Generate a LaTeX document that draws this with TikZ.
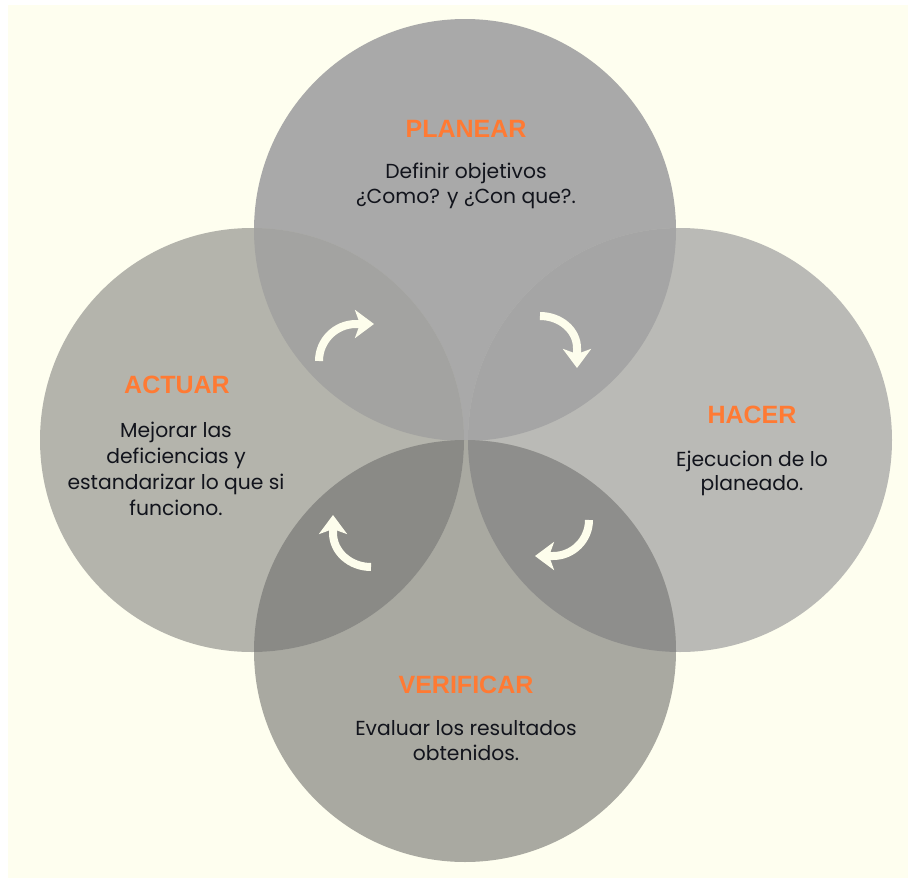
\documentclass[tikz,border=0pt]{standalone}
\usepackage{fontspec}
\setmainfont{Poppins}
\newfontfamily\titlefont{Liberation Sans}
\usetikzlibrary{arrows.meta}

\newlength{\du}
\setlength{\du}{1\unitlength}

\definecolor{titlecolor}{rgb}{1.000000, 0.478000, 0.200000}
\definecolor{bodycolor}{rgb}{0.070000, 0.080000, 0.110000}
\definecolor{arrowcolor}{rgb}{0.992000, 0.992000, 0.925000}

\tikzset{
  titletext/.style={anchor=base, inner sep=0pt, text=titlecolor,
    font=\titlefont\bfseries\fontsize{25pt}{30pt}\selectfont},
  bodytext/.style={anchor=base, inner sep=0pt, text=bodycolor,
    font=\fontsize{20.3pt}{24pt}\selectfont},
  turnarrow/.style={draw=arrowcolor, line width=8pt,
    -{Stealth[length=19pt, width=28pt, inset=5pt]}}
}

\begin{document}
\begin{tikzpicture}
\pgftransformxscale{1.000000}
\pgftransformyscale{-1.000000}
\useasboundingbox (0\du,0\du) rectangle (908\du,878\du);
\definecolor{dialinecolor}{rgb}{1.000000, 1.000000, 1.000000}
\pgfsetfillcolor{dialinecolor}
\fill (0\du,0\du)--(908\du,0\du)--(908\du,878\du)--(0\du,878\du)--cycle;
\definecolor{dialinecolor}{rgb}{0.996000, 0.996000, 0.937000}
\pgfsetfillcolor{dialinecolor}
\fill (8\du,5\du)--(908\du,5\du)--(908\du,878\du)--(8\du,878\du)--cycle;
% circles
\definecolor{dialinecolor}{rgb}{0.663000, 0.663000, 0.663000}
\pgfsetfillcolor{dialinecolor}
\fill (465\du,230\du) circle (211\du);
\definecolor{dialinecolor}{rgb}{0.729000, 0.729000, 0.714000}
\pgfsetfillcolor{dialinecolor}
\fill (680\du,440\du) circle (212\du);
\definecolor{dialinecolor}{rgb}{0.663000, 0.663000, 0.631000}
\pgfsetfillcolor{dialinecolor}
\fill (465\du,651\du) circle (211\du);
\definecolor{dialinecolor}{rgb}{0.706000, 0.706000, 0.675000}
\pgfsetfillcolor{dialinecolor}
\fill (252\du,440\du) circle (212\du);
% overlaps
\begin{scope}
\clip (465\du,230\du) circle (211\du);
\definecolor{dialinecolor}{rgb}{0.639000, 0.639000, 0.631000}
\pgfsetfillcolor{dialinecolor}
\fill (252\du,440\du) circle (212\du);
\definecolor{dialinecolor}{rgb}{0.647000, 0.647000, 0.647000}
\pgfsetfillcolor{dialinecolor}
\fill (680\du,440\du) circle (212\du);
\end{scope}
\begin{scope}
\clip (465\du,651\du) circle (211\du);
\definecolor{dialinecolor}{rgb}{0.541000, 0.541000, 0.525000}
\pgfsetfillcolor{dialinecolor}
\fill (252\du,440\du) circle (212\du);
\definecolor{dialinecolor}{rgb}{0.557000, 0.557000, 0.549000}
\pgfsetfillcolor{dialinecolor}
\fill (680\du,440\du) circle (212\du);
\end{scope}
% arrows
\draw[turnarrow] (319\du,361\du) arc[start angle=180, end angle=270, radius=37pt] -- (374\du,324\du);
\draw[turnarrow] (540\du,316\du) arc[start angle=270, end angle=360, x radius=37pt, y radius=32pt] -- (577\du,368\du);
\draw[turnarrow] (589\du,520\du) arc[start angle=0, end angle=90, radius=36pt] -- (535\du,556\du);
\draw[turnarrow] (371\du,567\du) arc[start angle=90, end angle=180, x radius=38pt, y radius=34pt] -- (333\du,515\du);
% texts
\node[titletext] (planear) at (466\du,137\du){PLANEAR};
\node[bodytext] (planear1) at (466\du,178\du){Definir objetivos};
\node[bodytext] (planear2) at (466\du,203\du){¿Como? y ¿Con que?.};
\node[titletext] (hacer) at (752\du,423\du){HACER};
\node[bodytext] (hacer1) at (752\du,466\du){Ejecucion de lo};
\node[bodytext] (hacer2) at (752\du,490\du){planeado.};
\node[titletext] (verificar) at (466\du,693\du){VERIFICAR};
\node[bodytext] (verificar1) at (466\du,735\du){Evaluar los resultados};
\node[bodytext] (verificar2) at (466\du,760\du){obtenidos.};
\node[titletext] (actuar) at (177\du,393\du){ACTUAR};
\node[bodytext] (actuar1) at (176\du,437\du){Mejorar las};
\node[bodytext] (actuar2) at (176\du,463\du){deficiencias y};
\node[bodytext] (actuar3) at (176\du,489\du){estandarizar lo que si};
\node[bodytext] (actuar4) at (176\du,515\du){funciono.};
\end{tikzpicture}
\end{document}
